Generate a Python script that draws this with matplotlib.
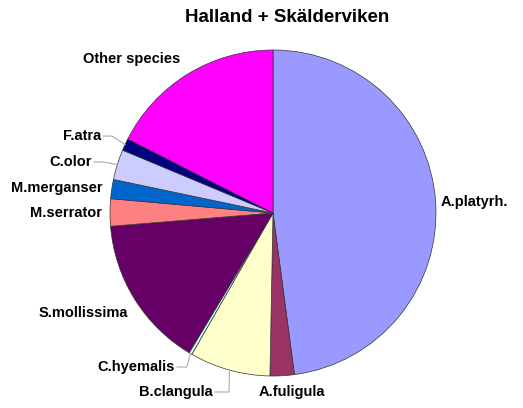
import numpy as np
import matplotlib
matplotlib.use("Agg")
import matplotlib.pyplot as plt

# share of birds per species (%), clockwise from 12 o'clock
species = ["A.platyrh.", "A.fuligula", "B.clangula", "C.hyemalis", "S.mollissima",
           "M.serrator", "M.merganser", "C.olor", "F.atra", "Other species"]
shares = [47.9, 2.4, 8.0, 0.3, 15.1, 2.7, 1.9, 3.0, 1.2, 17.5]
colors = ["#9999FF", "#993366", "#FFFFCC", "#CCFFFF", "#660066",
          "#FF8080", "#0066CC", "#CCCCFF", "#000080", "#FF00FF"]

# label placement in axes data units (pie radius = 1): x, y, ha
label_pos = [(1.031, 0.067, "left"), (0.117, -1.098, "center"), (-0.368, -1.098, "right"),
             (-0.601, -0.945, "right"), (-0.890, -0.613, "right"), (-1.049, 0.0, "right"),
             (-1.043, 0.153, "right"), (-1.110, 0.313, "right"), (-1.055, 0.472, "right"),
             (-0.571, 0.945, "right")]
# species that get a leader line, with horizontal run length (data units)
leaders = {"B.clangula": 0.086, "C.hyemalis": 0.06, "C.olor": 0.06, "F.atra": 0.055}

plt.rcParams["font.family"] = ["Liberation Sans", "DejaVu Sans"]

fig = plt.figure(figsize=(5.23, 4.08), dpi=100)
ax = fig.add_axes([110 / 523, 1 - 376 / 408, 326 / 523, 326 / 408])

wedges, _ = ax.pie(shares, colors=colors, startangle=90, counterclock=False, radius=1,
                   wedgeprops=dict(edgecolor="#333333", linewidth=0.5))
for w in wedges:
    w.set_clip_on(False)

ax.set_xlim(-1, 1)
ax.set_ylim(-1, 1)
ax.set_aspect("equal")
ax.axis("off")

for w, name, (x, y, ha) in zip(wedges, species, label_pos):
    ax.text(x, y, name, ha=ha, va="center", fontsize=10.5, fontweight="bold", clip_on=False)
    if name in leaders:
        mid = np.deg2rad((w.theta1 + w.theta2) / 2)
        ex, ey = np.cos(mid), np.sin(mid)
        x0 = x + 0.012
        x1 = x0 + leaders[name]
        ax.plot([x0, x1, ex], [y, y, ey], color="#aaaaaa", lw=0.8, clip_on=False)

fig.text(287.5 / 523, 1 - 17 / 408, "Halland + Skälderviken", ha="center", va="center",
         fontsize=13.5, fontweight="bold")

fig.savefig("out.png", dpi=100)
